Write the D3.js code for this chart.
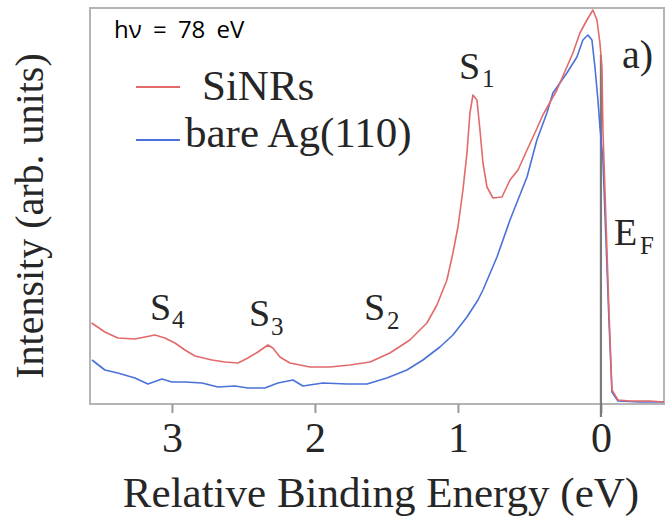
<!DOCTYPE html>
<html>
<head>
<meta charset="utf-8">
<script src="https://cdn.jsdelivr.net/npm/d3@7"></script>
<style>
  html, body { margin: 0; padding: 0; background: #fff; }
  svg { display: block; }
  .serif { font-family: "Liberation Serif", "Times New Roman", serif; fill: #262626; }
</style>
</head>
<body>
<svg id="chart" width="670" height="519"></svg>
<script>
// Valence band spectra: binding energy (eV) vs intensity (arb. units)
const siNRsEnergy = [3.562, 3.469, 3.378, 3.259, 3.189, 3.119, 3.049, 2.979, 2.909, 2.839, 2.720, 2.629, 2.538, 2.469, 2.399, 2.329, 2.294, 2.245, 2.175, 2.035, 1.895, 1.755, 1.615, 1.476, 1.336, 1.217, 1.147, 1.077, 1.035, 1.000, 0.965, 0.937, 0.916, 0.895, 0.867, 0.846, 0.825, 0.797, 0.755, 0.692, 0.636, 0.580, 0.517, 0.462, 0.406, 0.308, 0.196, 0.147, 0.098, 0.056, 0.028, 0.007, -0.007, -0.014, -0.035, -0.056, -0.077, -0.119, -0.203, -0.343, -0.441];
const siNRsIntensity = [81, 72, 66, 65, 67, 69, 66, 61, 54, 48, 44, 42, 41, 46, 52, 59, 56, 47, 41, 37, 37, 39, 42, 51, 64, 81, 99, 124, 151, 177, 214, 251, 291, 309, 304, 274, 241, 217, 206, 207, 224, 234, 254, 271, 289, 314, 351, 371, 384, 394, 384, 361, 337, 274, 184, 94, 14, 4, 3, 3, 2];

const agEnergy = [3.559, 3.469, 3.378, 3.259, 3.168, 3.070, 3.000, 2.909, 2.790, 2.678, 2.559, 2.469, 2.350, 2.259, 2.154, 2.084, 1.944, 1.776, 1.636, 1.497, 1.357, 1.245, 1.126, 1.035, 0.937, 0.860, 0.825, 0.727, 0.636, 0.517, 0.448, 0.378, 0.336, 0.238, 0.168, 0.126, 0.091, 0.063, 0.042, 0.021, 0.007, -0.014, -0.035, -0.056, -0.077, -0.119, -0.273, -0.441];
const agIntensity = [44, 34, 31, 26, 20, 25, 22, 22, 21, 17, 18, 16, 16, 21, 24, 18, 21, 20, 20, 26, 34, 44, 57, 69, 87, 104, 114, 147, 184, 227, 264, 291, 311, 331, 347, 364, 369, 364, 337, 304, 277, 244, 164, 84, 12, 3, 2, 2];

const tickValues = [3, 2, 1, 0];
const seriesNames = ["SiNRs", "bare Ag(110)"];
const seriesColors = ["#e26a6a", "#4a72d9"];

const svg = d3.select("#chart");
const plotLeft = 90, plotRight = 664, plotTop = 8, plotBottom = 404;

const x = d3.scaleLinear().domain([3.573, -0.441]).range([plotLeft, plotRight]);
const y = d3.scaleLinear().domain([0, 396]).range([plotBottom, plotTop]);

svg.append("defs").append("clipPath").attr("id", "plot")
  .append("rect").attr("x", plotLeft).attr("y", plotTop - 4)
  .attr("width", plotRight - plotLeft).attr("height", plotBottom - plotTop + 4);

// plot frame
svg.append("rect")
  .attr("x", plotLeft).attr("y", plotTop)
  .attr("width", plotRight - plotLeft).attr("height", plotBottom - plotTop)
  .attr("fill", "none").attr("stroke", "#b4b4b4").attr("stroke-width", 2);

// bottom axis with ticks pointing down
const xAxis = d3.axisBottom(x).tickValues(tickValues).tickSize(9).tickPadding(9)
  .tickFormat(d3.format("d"));
const gx = svg.append("g").attr("transform", `translate(0,${plotBottom})`).call(xAxis);
gx.select(".domain").remove();
gx.selectAll(".tick line").attr("stroke", "#999").attr("stroke-width", 2);
gx.selectAll(".tick text")
  .attr("class", "serif")
  .attr("font-size", 42)
  .attr("dy", "0.71em");

// Fermi level marker
svg.append("line")
  .attr("x1", x(0)).attr("x2", x(0)).attr("y1", 55).attr("y2", 417)
  .attr("stroke", "#7a7a7a").attr("stroke-width", 2.2);

const line = d3.line().x((d) => x(d[0])).y((d) => y(d[1]));
const siData = siNRsEnergy.map((e, i) => [e, siNRsIntensity[i]]);
const agData = agEnergy.map((e, i) => [e, agIntensity[i]]);

const plot = svg.append("g").attr("clip-path", "url(#plot)");
plot.append("path").datum(agData).attr("d", line)
  .attr("fill", "none").attr("stroke", seriesColors[1]).attr("stroke-width", 1.6)
  .attr("stroke-linejoin", "round");
plot.append("path").datum(siData).attr("d", line)
  .attr("fill", "none").attr("stroke", seriesColors[0]).attr("stroke-width", 1.6)
  .attr("stroke-linejoin", "round");

// axis titles
svg.append("text").attr("class", "serif")
  .attr("x", 381).attr("y", 507).attr("text-anchor", "middle")
  .attr("font-size", 43).text("Relative Binding Energy (eV)");
svg.append("text").attr("class", "serif")
  .attr("transform", "translate(43,216) rotate(-90)")
  .attr("text-anchor", "middle").attr("font-size", 40)
  .text("Intensity (arb. units)");

// photon energy
svg.append("text")
  .attr("x", 114).attr("y", 38)
  .attr("font-family", "'Open Sans', 'Liberation Sans', sans-serif")
  .attr("font-size", 24).attr("word-spacing", 5).attr("fill", "#000")
  .text("hν = 78 eV");

// legend
const legendRows = [
  { y: 87, textX: 202, base: 100 },
  { y: 140, textX: 185, base: 147 }
];
legendRows.forEach((r, i) => {
  svg.append("line").attr("x1", 136).attr("x2", 180).attr("y1", r.y).attr("y2", r.y)
    .attr("stroke", seriesColors[i]).attr("stroke-width", 2);
  svg.append("text").attr("class", "serif").attr("x", r.textX).attr("y", r.base)
    .attr("font-size", 43).text(seriesNames[i]);
});

// state labels with subscripts
const stateLabels = [
  { main: "S", sub: "1", x: 459, y: 79, sx: 482, sy: 87 },
  { main: "S", sub: "4", x: 150, y: 320, sx: 172, sy: 328 },
  { main: "S", sub: "3", x: 249, y: 326, sx: 271, sy: 335 },
  { main: "S", sub: "2", x: 364, y: 320, sx: 387, sy: 329 },
  { main: "E", sub: "F", x: 614, y: 245, sx: 640, sy: 254 }
];
stateLabels.forEach((s) => {
  svg.append("text").attr("class", "serif")
    .attr("x", s.x).attr("y", s.y).attr("font-size", 38).text(s.main);
  svg.append("text").attr("class", "serif")
    .attr("x", s.sx).attr("y", s.sy).attr("font-size", 25).text(s.sub);
});

svg.append("text").attr("class", "serif").attr("x", 622).attr("y", 68)
  .attr("font-size", 40).text("a)");
</script>
</body>
</html>
